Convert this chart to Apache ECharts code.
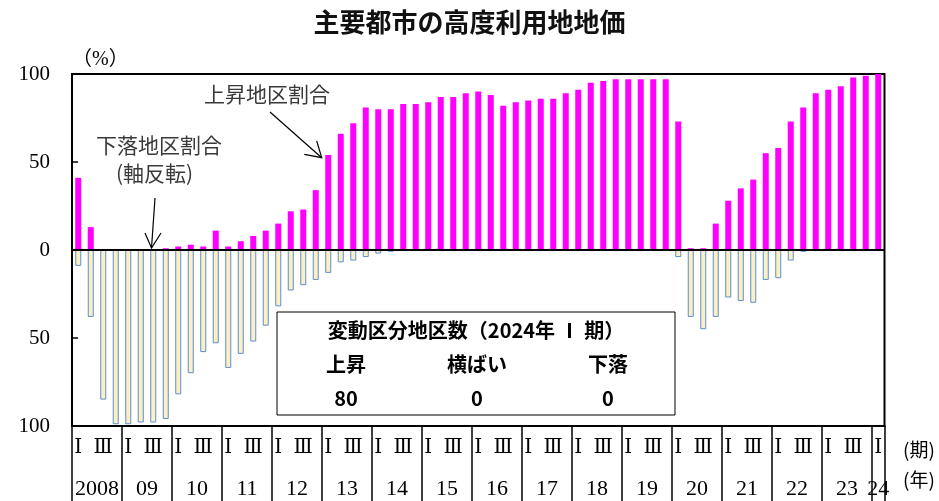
<!DOCTYPE html>
<html>
<head>
<meta charset="utf-8">
<script src="https://cdn.jsdelivr.net/npm/echarts@6/dist/echarts.min.js"></script>
<style>
html,body{margin:0;padding:0;background:#fff;}
#chart{width:939px;height:501px;}
</style>
</head>
<body>
<div id="chart"></div>
<script>
// ---- data ----
const yearLabels = ['2008','09','10','11','12','13','14','15','16','17','18','19','20','21','22','23','24'];
const quarterNames = ['Ⅰ','Ⅱ','Ⅲ','Ⅳ'];
// 上昇地区割合 (%)
const riseShare = [
  41,13,0,0,
  0,0,0,1,
  2,3,2,11,
  2,5,8,11,
  15,22,23,34,
  54,66,72,81,
  80,80,83,83,
  84,87,87,89,
  90,88,82,84,
  85,86,86,89,
  91,95,96,97,
  97,97,97,97,
  73,1,1,15,
  28,35,40,55,
  58,73,81,89,
  91,93,98,99,
  100
];
// 下落地区割合 (%) — plotted downward (axis reversed)
const fallShare = [
  9,38,85,99,
  99,98,98,96,
  82,70,58,53,
  67,59,52,43,
  32,23,20,17,
  13,7,6,4,
  2,1,0,0,
  0,0,0,0,
  0,0,0,0,
  0,0,0,0,
  0,0,0,0,
  0,0,0,0,
  4,38,45,38,
  27,29,30,17,
  16,6,1,0,
  0,0,0,0,
  0
];
const summaryTitle = '変動区分地区数（2024年 Ⅰ 期）';
const summaryLabels = ['上昇','横ばい','下落'];
const summaryCounts = [80,0,0];

// ---- build ----
const categories = [];
for (let i = 0; i < riseShare.length; i++) {
  categories.push(yearLabels[Math.floor(i/4)] + quarterNames[i%4]);
}
const serif = "'Liberation Serif','DejaVu Serif','Noto Sans CJK JP',serif";
const jp = "'Noto Sans CJK JP',sans-serif";

const chart = echarts.init(document.getElementById('chart'));
const boxX = 277, boxY = 312, boxW = 398, boxH = 103;
const colX = [346, 477, 608];
const graphics = [
  {type:'text', left:204, top:84, style:{text:'上昇地区割合', font:'21px '+jp, fill:'#3a3a3a'}},
  {type:'text', left:96, top:135, style:{text:'下落地区割合', font:'21px '+jp, fill:'#3a3a3a'}},
  {type:'text', left:116, top:163, style:{text:'(軸反転)', font:'21px '+jp, fill:'#3a3a3a'}},
  {type:'polyline', shape:{points:[[270,112],[321.7,157.7]]}, style:{stroke:'#000', lineWidth:1.2, fill:null}},
  {type:'polyline', shape:{points:[[304.3,154.3],[321.7,157.7],[316.7,141]]}, style:{stroke:'#000', lineWidth:1.2, fill:null}},
  {type:'polyline', shape:{points:[[155,198],[151.5,248]]}, style:{stroke:'#000', lineWidth:1.2, fill:null}},
  {type:'polyline', shape:{points:[[145,233],[151.5,248],[161,233]]}, style:{stroke:'#000', lineWidth:1.2, fill:null}},
  {type:'rect', shape:{x:boxX, y:boxY, width:boxW, height:boxH}, style:{stroke:'#000', lineWidth:1, fill:'#fff'}, z:10},
  {type:'text', x:476, y:330, z:11, style:{text:summaryTitle, font:'bold 20px '+jp, fill:'#000', align:'center', verticalAlign:'middle'}},
  {type:'text', x:919, y:450, style:{text:'(期)', font:'19px '+jp, fill:'#000', align:'center', verticalAlign:'middle'}},
  {type:'text', x:919, y:480, style:{text:'(年)', font:'19px '+jp, fill:'#000', align:'center', verticalAlign:'middle'}}
];
summaryLabels.forEach((s, k) => {
  graphics.push({type:'text', x:colX[k], y:364, z:11, style:{text:s, font:'bold 20px '+jp, fill:'#000', align:'center', verticalAlign:'middle'}});
  graphics.push({type:'text', x:colX[k], y:398, z:11, style:{text:String(summaryCounts[k]), font:'bold 20px '+jp, fill:'#000', align:'center', verticalAlign:'middle'}});
});

chart.setOption({
  animation:false,
  title:{text:'主要都市の高度利用地地価', left:'center', top:4,
    textStyle:{fontFamily:jp, fontSize:26, fontWeight:'bold', color:'#111'}},
  grid:{left:72, right:54.5, top:74, bottom:75, show:true, borderColor:'#000', borderWidth:2, containLabel:false},
  xAxis:[{
    type:'category', data:categories, position:'bottom',
    axisLine:{show:true, onZero:false, lineStyle:{color:'#000', width:2}},
    axisTick:{show:true, interval:(idx)=> idx%4===0, length:75, lineStyle:{color:'#000', width:1.5}},
    axisLabel:{interval:0, margin:12, fontFamily:serif, fontSize:20, color:'#000',
      formatter:(v, idx)=> (idx%4===0 || idx%4===2) ? quarterNames[idx%4] : ''}
  },{
    type:'category', data:categories, position:'bottom', offset:40,
    axisLine:{show:false, onZero:false}, axisTick:{show:false},
    axisLabel:{interval:0, margin:12, color:'#000',
      formatter:(v, idx)=> {
        const y = yearLabels[Math.floor(idx/4)];
        if (idx === categories.length-1 && idx%4===0) return '{b|'+y+'}';
        return idx%4===1 ? '{a|'+y+'}' : '';
      },
      rich:{a:{fontFamily:serif, fontSize:22, color:'#000', padding:[0,0,0,12.5]},
            b:{fontFamily:serif, fontSize:22, color:'#000'}}}
  }],
  yAxis:{
    type:'value', min:-100, max:100, interval:50,
    name:'（%）', nameLocation:'end', nameGap:4,
    nameTextStyle:{fontFamily:serif, fontSize:20, color:'#000', align:'left', padding:[0,0,0,0]},
    axisLine:{show:true, lineStyle:{color:'#000', width:2}},
    axisTick:{show:true, inside:true, length:6, lineStyle:{color:'#000', width:1.5}},
    splitLine:{show:false},
    axisLabel:{margin:22, fontFamily:serif, fontSize:21, color:'#000', formatter:(v)=> String(Math.abs(v))}
  },
  series:[{
    name:'上昇地区割合', type:'bar', data:riseShare, barWidth:6, barGap:'-100%',
    itemStyle:{color:'#FF00FF'}
  },{
    name:'下落地区割合', type:'bar', data:fallShare.map(v=>-v), barWidth:6, barGap:'-100%',
    itemStyle:{color:'#FCEFC4', borderColor:'#5B8FD0', borderWidth:1}
  ,
    markLine:{silent:true, symbol:'none', label:{show:false},
      lineStyle:{color:'#000', width:2, type:'solid'}, data:[{yAxis:0}]}
  }],
  graphic:graphics
});
</script>
</body>
</html>
